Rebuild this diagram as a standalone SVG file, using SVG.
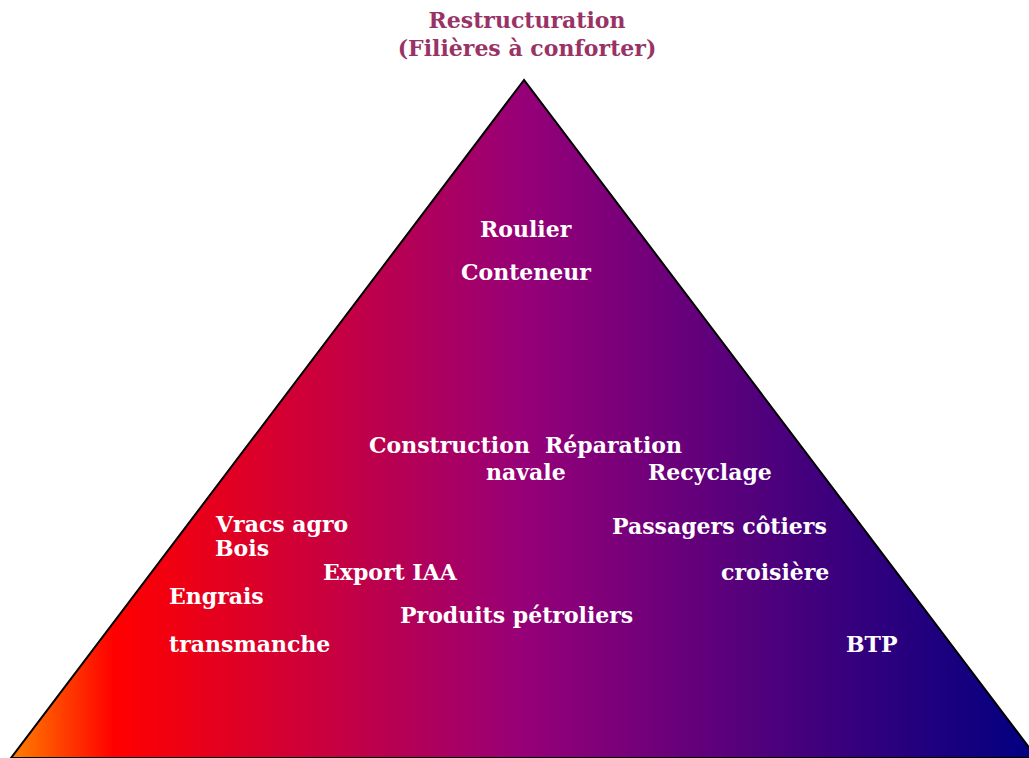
<svg xmlns="http://www.w3.org/2000/svg" width="1029" height="758" viewBox="0 0 1029 758">
<style>
.t{font-family:"DejaVu Serif","Liberation Serif",serif;font-weight:bold;font-size:22px}
.w{fill:#ffffff}
.title{fill:#993366;text-anchor:middle}
</style>
<defs>
<linearGradient id="g" x1="11" y1="0" x2="1037" y2="0" gradientUnits="userSpaceOnUse">
<stop offset="0" stop-color="#ff8000"/>
<stop offset="0.1" stop-color="#ff0000"/>
<stop offset="0.5" stop-color="#960078"/>
<stop offset="1" stop-color="#000080"/>
</linearGradient>
</defs>
<rect width="1029" height="758" fill="#ffffff"/>
<g id="title">
<text class="t title" x="527" y="28">Restructuration</text>
<text class="t title" x="527" y="56">(Filières à conforter)</text>
</g>
<g id="pyramid">
<polygon points="524,80 11,758 1037,758" fill="url(#g)" stroke="#000000" stroke-width="2"/>
</g>
<g id="labels">
<text id="roulier" class="t w" x="480" y="237">Roulier</text>
<text id="conteneur" class="t w" x="461" y="280">Conteneur</text>
<text id="construction" class="t w" x="369" y="453">Construction</text>
<text id="reparation" class="t w" x="545" y="453">Réparation</text>
<text id="navale" class="t w" x="486" y="480">navale</text>
<text id="recyclage" class="t w" x="648" y="480">Recyclage</text>
<text id="vracs" class="t w" x="216" y="532">Vracs agro</text>
<text id="bois" class="t w" x="215" y="556">Bois</text>
<text id="passagers" class="t w" x="612" y="534">Passagers côtiers</text>
<text id="export" class="t w" x="323" y="580">Export IAA</text>
<text id="croisiere" class="t w" x="721" y="580">croisière</text>
<text id="engrais" class="t w" x="169" y="604">Engrais</text>
<text id="produits" class="t w" x="400" y="623">Produits pétroliers</text>
<text id="transmanche" class="t w" x="169" y="652">transmanche</text>
<text id="btp" class="t w" x="846" y="652">BTP</text>
</g>
<g id="connectors"/>
</svg>
